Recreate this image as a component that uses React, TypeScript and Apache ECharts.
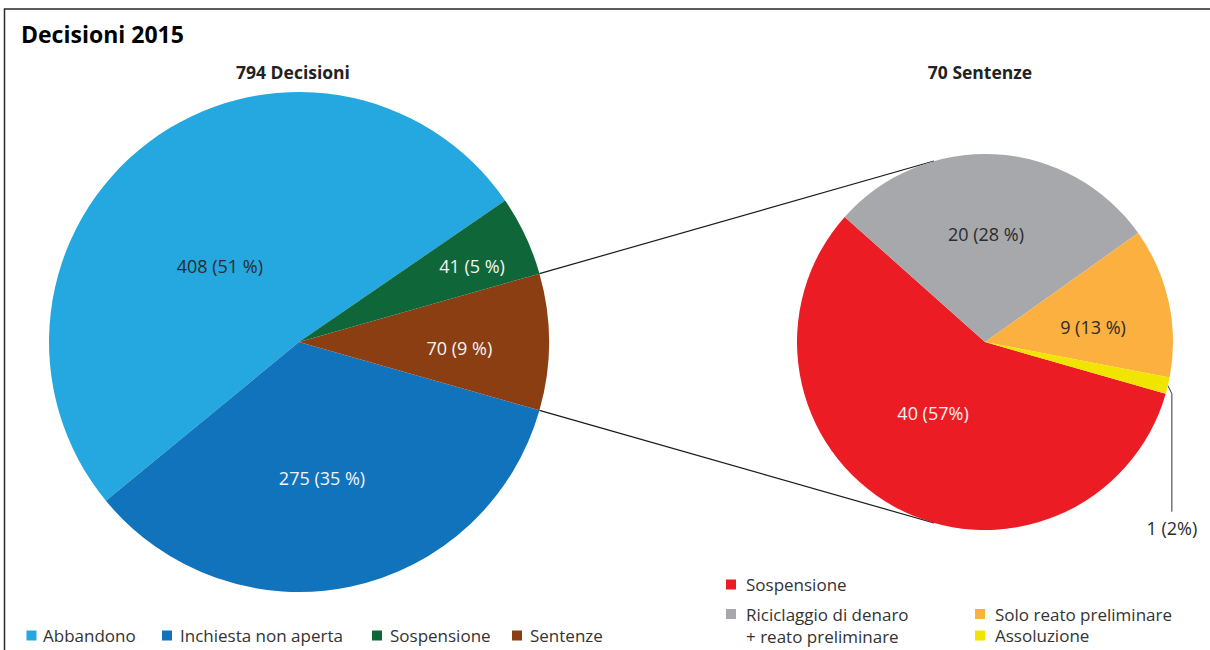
import React, { useEffect, useRef } from "react";
import * as echarts from "echarts";

// ---------- data ----------
const decisionCategories = ["Abbandono", "Inchiesta non aperta", "Sospensione", "Sentenze"];
const decisionValues = [408, 275, 41, 70];
const decisionPercents = [51, 35, 5, 9];

const sentenceCategories = [
  "Sospensione",
  "Riciclaggio di denaro + reato preliminare",
  "Solo reato preliminare",
  "Assoluzione",
];
const sentenceValues = [40, 20, 9, 1];
const sentencePercents = [57, 28, 13, 2];
const sentencePercentGap = ["", " ", " ", ""];

const chartTitle = "Decisioni 2015";
const decisionTitle = "794 Decisioni";
const sentenceTitle = "70 Sentenze";

// ---------- styles / layout ----------
const FONT = '"Open Sans", "Noto Sans", sans-serif';
const decisionColors = ["#25a8e0", "#1173bb", "#0f6638", "#8c3e13"];
const sentenceColors = ["#ec1c24", "#a7a8ab", "#fbb040", "#f1e400"];
const decisionLabelColors = ["#2b2b2b", "#f4f4f4", "#f4f4f4", "#f4f4f4"];
const sentenceLabelColors = ["#f4f4f4", "#2b2b2b", "#2b2b2b", "#2b2b2b"];

const LEFT = { cx: 299, cy: 342, r: 250 };
const RIGHT = { cx: 985, cy: 342, r: 188 };
// label anchor: [angle in degrees (counter-clockwise from 3 o'clock), fraction of radius]
const decisionLabelPos = [
  [136, 0.44],
  [-80.4, 0.552],
  [23.7, 0.756],
  [-2.1, 0.642],
];
const sentenceLabelPos = [
  [-126.2, 0.468],
  [89.5, 0.573],
  [7.9, 0.58],
];
const connectorAngleRight = 105.7;
const decisionLegendLeft = [26.5, 162, 372, 512];
const decisionLegendTextPad = [1.5, 3, 3, 3];

const DEG = Math.PI / 180;
const pt = (c: { cx: number; cy: number }, ang: number, rr: number) => [
  c.cx + rr * Math.cos(ang * DEG),
  c.cy - rr * Math.sin(ang * DEG),
];

export default function App() {
  const ref = useRef<HTMLDivElement>(null);

  useEffect(() => {
    const chart = echarts.init(ref.current!, null, { renderer: "svg" });

    // ---- left pie geometry (counter-clockwise, "Sentenze" centred on the horizontal) ----
    const decisionTotal = decisionValues.reduce((a, b) => a + b, 0);
    const decisionDrawOrder = [0, 1, 3, 2];
    const sentIdx = 3;
    let before = 0;
    for (const i of decisionDrawOrder) {
      if (i === sentIdx) break;
      before += decisionValues[i];
    }
    const leftStart = 360 - ((before + decisionValues[sentIdx] / 2) / decisionTotal) * 360;
    const sentA0 = leftStart + (before / decisionTotal) * 360;
    const sentA1 = sentA0 + (decisionValues[sentIdx] / decisionTotal) * 360;

    // ---- right pie geometry (clockwise) ----
    const sentenceTotal = sentenceValues.reduce((a, b) => a + b, 0);
    const rightStart = 344;
    const assIdx = 3;
    let beforeR = 0;
    for (let i = 0; i < assIdx; i++) beforeR += sentenceValues[i];
    const assMid = rightStart - ((beforeR + sentenceValues[assIdx] / 2) / sentenceTotal) * 360;
    const leadStart = pt(RIGHT, assMid, RIGHT.r);
    const leadBend = [leadStart[0] + 4, leadStart[1] + 8];
    const leadEnd = [leadBend[0], leadBend[1] + 118];
    const assLabel = [leadEnd[0], leadEnd[1] + 16];

    const c1a = pt(LEFT, sentA1, LEFT.r);
    const c1b = pt(RIGHT, connectorAngleRight, RIGHT.r);
    const c2a = pt(LEFT, sentA0, LEFT.r);
    const c2b = pt(RIGHT, -connectorAngleRight, RIGHT.r);

    const legendText = { fontFamily: FONT, fontSize: 17, color: "#333", lineHeight: 22 };
    const legendBase = {
      orient: "horizontal",
      padding: 0,
      itemWidth: 10,
      itemHeight: 10,
      icon: "rect",
      selectedMode: false,
    };
    const rightText = { ...legendText, padding: [0, 0, 0, 5] };

    const option: any = {
      animation: false,
      backgroundColor: "#fff",
      title: [
        {
          text: chartTitle,
          left: 21,
          top: 22.5,
          padding: 0,
          textStyle: { fontFamily: FONT, fontSize: 23, fontWeight: "bold", color: "#000" },
        },
        {
          text: decisionTitle,
          left: 293,
          top: 62.5,
          padding: 0,
          textAlign: "center",
          textStyle: { fontFamily: FONT, fontSize: 17.5, fontWeight: "bold", color: "#222" },
        },
        {
          text: sentenceTitle,
          left: 980,
          top: 62.5,
          padding: 0,
          textAlign: "center",
          textStyle: { fontFamily: FONT, fontSize: 17.5, fontWeight: "bold", color: "#222" },
        },
      ],
      legend: [
        ...decisionCategories.map((n, i) => ({
          ...legendBase,
          left: decisionLegendLeft[i],
          top: 624.5,
          textStyle: { ...legendText, padding: [0, 0, 0, decisionLegendTextPad[i]] },
          data: [{ name: n, itemStyle: { color: decisionColors[i] } }],
        })),
        { ...legendBase, textStyle: rightText, left: 726, top: 573.5, data: [{ name: sentenceCategories[0], itemStyle: { color: sentenceColors[0] } }] },
        {
          ...legendBase,
          left: 726,
          top: 581,
          textStyle: rightText,
          // empty first line keeps the marker level with the first written line
          formatter: (n: string) => "\n" + n.replace(" + ", "\n+ "),
          data: [{ name: sentenceCategories[1], itemStyle: { color: sentenceColors[1] } }],
        },
        { ...legendBase, textStyle: rightText, left: 975, top: 603, data: [{ name: sentenceCategories[2], itemStyle: { color: sentenceColors[2] } }] },
        { ...legendBase, textStyle: rightText, left: 975, top: 624.5, data: [{ name: sentenceCategories[3], itemStyle: { color: sentenceColors[3] } }] },
      ],
      graphic: [
        {
          type: "rect",
          shape: { x: 4.5, y: 9, width: 1400, height: 1000 },
          style: { fill: "none", stroke: "#2a2a2a", lineWidth: 1.5 },
          silent: true,
        },
        {
          type: "line",
          shape: { x1: c1a[0], y1: c1a[1], x2: c1b[0], y2: c1b[1] },
          style: { stroke: "#1a1a1a", lineWidth: 1.2 },
          silent: true,
        },
        {
          type: "line",
          shape: { x1: c2a[0], y1: c2a[1], x2: c2b[0], y2: c2b[1] },
          style: { stroke: "#1a1a1a", lineWidth: 1.2 },
          silent: true,
        },
        {
          type: "polyline",
          shape: { points: [leadStart, leadBend, leadEnd] },
          style: { stroke: "#333", lineWidth: 1, fill: "none" },
          silent: true,
        },
      ],
      series: [
        {
          type: "pie",
          name: decisionTitle,
          center: [LEFT.cx, LEFT.cy],
          radius: LEFT.r,
          startAngle: leftStart,
          clockwise: false,
          silent: true,
          avoidLabelOverlap: false,
          labelLine: { show: false },
          itemStyle: { borderWidth: 0 },
          label: {
            show: true,
            position: "inside",
            fontFamily: FONT,
            fontSize: 18,
            formatter: (p: any) => {
              const i = decisionDrawOrder[p.dataIndex];
              return `${decisionValues[i]} (${decisionPercents[i]} %)`;
            },
          },
          labelLayout: (p: any) => {
            const i = decisionDrawOrder[p.dataIndex];
            const [a, f] = decisionLabelPos[i];
            const [x, y] = pt(LEFT, a, f * LEFT.r);
            return { x, y, align: "center", verticalAlign: "middle" };
          },
          data: decisionDrawOrder.map((i) => ({
            name: decisionCategories[i],
            value: decisionValues[i],
            itemStyle: { color: decisionColors[i] },
            label: { color: decisionLabelColors[i] },
          })),
        },
        {
          type: "pie",
          name: sentenceTitle,
          center: [RIGHT.cx, RIGHT.cy],
          radius: RIGHT.r,
          startAngle: rightStart,
          clockwise: true,
          silent: true,
          avoidLabelOverlap: false,
          labelLine: { show: false },
          itemStyle: { borderWidth: 0 },
          label: {
            show: true,
            position: "inside",
            fontFamily: FONT,
            fontSize: 18,
            formatter: (p: any) => {
              const i = p.dataIndex;
              return `${sentenceValues[i]} (${sentencePercents[i]}${sentencePercentGap[i]}%)`;
            },
          },
          labelLayout: (p: any) => {
            const i = p.dataIndex;
            if (i === assIdx) {
              return { x: assLabel[0], y: assLabel[1], align: "center", verticalAlign: "middle" };
            }
            const [a, f] = sentenceLabelPos[i];
            const [x, y] = pt(RIGHT, a, f * RIGHT.r);
            return { x, y, align: "center", verticalAlign: "middle" };
          },
          data: sentenceCategories.map((n, i) => ({
            name: n,
            value: sentenceValues[i],
            itemStyle: { color: sentenceColors[i] },
            label: { color: sentenceLabelColors[i] },
          })),
        },
      ],
    };

    chart.setOption(option);
    return () => chart.dispose();
  }, []);

  return (
    <div
      ref={ref}
      style={{ position: "fixed", left: 0, top: 0, width: 1210, height: 650, background: "#fff" }}
    />
  );
}
